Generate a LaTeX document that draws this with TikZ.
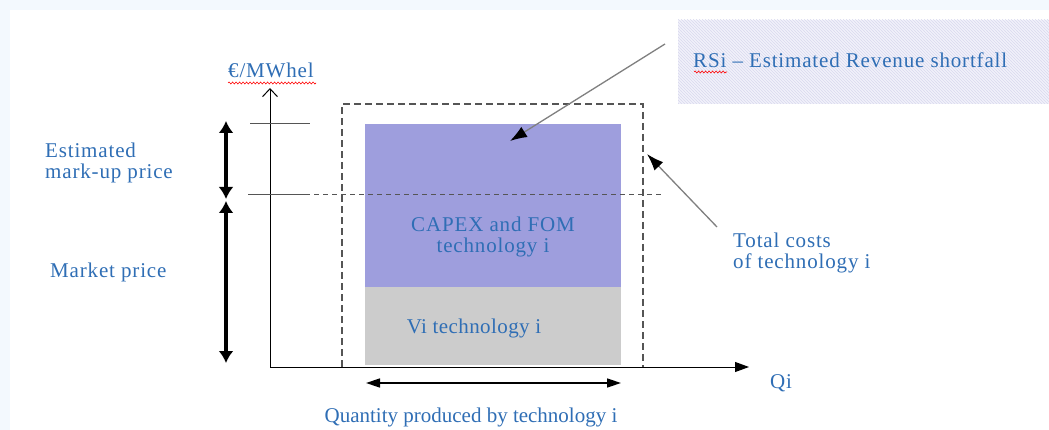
\documentclass[tikz,border=0pt]{standalone}
\usepackage{fontspec}
\setmainfont{Liberation Serif}
\usetikzlibrary{arrows.meta,patterns,decorations.pathmorphing}
\definecolor{bgblue}{HTML}{F3F9FE}
\definecolor{txtblue}{HTML}{2F6EB5}
\definecolor{capex}{HTML}{9E9EDD}
\definecolor{vigray}{HTML}{CCCCCC}
\definecolor{hatchbg}{HTML}{F1F1FA}
\definecolor{hatchln}{HTML}{D9D9EE}
\definecolor{linegray}{HTML}{555555}
\tikzset{
  lbl/.style={text=txtblue, font=\fontsize{21}{21}\selectfont, inner sep=0pt},
  widelbl/.style={lbl, font=\fontsize{21}{21}\selectfont\addfontfeature{LetterSpace=4}},
  midlbl/.style={lbl, font=\fontsize{21}{21}\selectfont\addfontfeature{LetterSpace=2}},
  thickarr/.style={line width=3.2pt, {Latex[length=12pt,width=15pt]}-{Latex[length=12pt,width=15pt]}},
  callout/.style={draw=gray, line width=1.3pt, -{Latex[length=17pt,width=12pt,fill=black,color=black]}},
  spell/.style={red, line width=0.6pt, decorate, decoration={snake, amplitude=1pt, segment length=3.5pt}},
}
\begin{document}
\begin{tikzpicture}[x=1pt,y=-1pt]
\useasboundingbox (0,0) rectangle (1049,430);
\fill[bgblue] (0,0) rectangle (1049,430);
\fill[white] (10,10) rectangle (1049,430);
% hatched caption box
\fill[hatchbg] (678,20) rectangle (1049,104);
\fill[pattern=north west lines, pattern color=hatchln] (678,20) rectangle (1049,104);
\node[widelbl, anchor=base west] (rsi) at (693,68) {RSi -- Estimated Revenue shortfall};
\draw[spell] (694,72) -- (727,72);
% bars
\fill[capex] (365,124) rectangle (621,287);
\fill[vigray] (365,287) rectangle (621,365);
\node[widelbl, align=center, anchor=north] (capexlbl) at (493,217) {CAPEX and FOM\\technology i};
\node[midlbl, anchor=base] (vilbl) at (474,333) {Vi technology i};
% dashed total cost box
\draw[linegray, line width=1.3pt, dash pattern=on 7pt off 4pt] (342,367) -- (342,104) -- (643,104) -- (643,367);
% axes
\coordinate (O) at (270,367);
\coordinate (ytop) at (270,88);
\coordinate (xend) at (749,367);
\draw[line width=1pt, -{Straight Barb[length=8pt,width=15pt]}] (O) -- (ytop);
\draw[line width=1pt, -{Triangle[length=14pt,width=10pt]}] (O) -- (xend);
\node[widelbl, anchor=base west] (yunit) at (228,78) {€/MWhel};
\draw[spell] (228,83) -- (316,83);
\node[widelbl, anchor=base west] (qi) at (770,388) {Qi};
% level lines
\coordinate (t1) at (250,124);
\coordinate (t2) at (310,124);
\draw[linegray, line width=1pt] (t1) -- (t2);
\coordinate (m1) at (248,195);
\coordinate (m2) at (305,195);
\coordinate (m3) at (663,195);
\draw[linegray, line width=1pt] (m1) -- (m2);
\draw[linegray, line width=1pt, dash pattern=on 5pt off 4pt] (m2) -- (m3);
% thick price arrows
\coordinate (a1) at (226,121);
\coordinate (a2) at (226,199);
\coordinate (a3) at (226,201);
\coordinate (a4) at (226,363);
\draw[thickarr] (a1) -- (a2);
\draw[thickarr] (a3) -- (a4);
\node[widelbl, align=left, anchor=north west] (markup) at (45,143) {Estimated\\mark-up price};
\node[widelbl, anchor=base west] (market) at (50,277) {Market price};
% quantity arrow
\coordinate (q1) at (366,383);
\coordinate (q2) at (621,383);
\draw[line width=1.5pt, {Triangle[length=14pt,width=9pt]}-{Triangle[length=14pt,width=9pt]}] (q1) -- (q2);
\node[lbl, anchor=base] (qty) at (471,422) {Quantity produced by technology i};
% total costs label and callouts
\node[widelbl, align=left, anchor=north west] (total) at (733,233) {Total costs\\of technology i};
\coordinate (c1) at (717,227);
\coordinate (c2) at (647,154);
\draw[callout] (c1) -- (c2);
\coordinate (r1) at (665,44);
\coordinate (r2) at (510,141);
\draw[callout] (r1) -- (r2);
\end{tikzpicture}
\end{document}
